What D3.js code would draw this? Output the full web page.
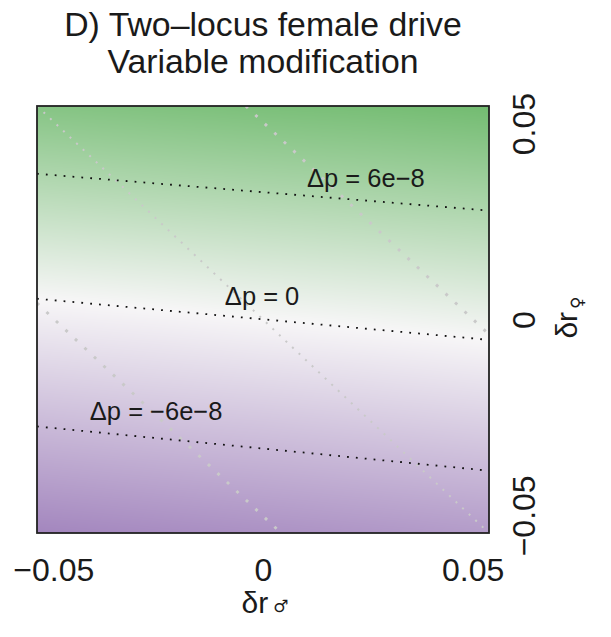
<!DOCTYPE html>
<html><head><meta charset="utf-8">
<script src="https://cdn.jsdelivr.net/npm/d3@7"></script>
<style>
body{margin:0;background:#fff}
svg{display:block}
text{font-family:"Liberation Sans",Arial,Helvetica,sans-serif;fill:#1a1a1a}
</style>
</head><body>
<svg id="chart" width="611" height="637"></svg>
<script>
// ---------- data ----------
const titleLines = ["D) Two\u2013locus female drive", "Variable modification"];
const xTicks = [-0.05, 0, 0.05];
const yTicks = [-0.05, 0, 0.05];
const xTickLabels = ["\u22120.05", "0", "0.05"];
const yTickLabels = ["\u22120.05", "0", "0.05"];
const xDomain = [-0.0539, 0.0539];
const yDomain = [-0.0545, 0.0545];

// Δp field (units of 1e-8) read at grid nodes
const gridX = [-0.05, -0.025, 0, 0.025, 0.05];
const gridY = [0.05, 0.025, 0, -0.025, -0.05];
const deltaP = [
  [ 8.5,  8.9,  9.3,  9.6, 10.0],
  [ 3.8,  4.2,  4.6,  5.0,  5.4],
  [-0.9, -0.5,  0.0,  0.4,  0.9],
  [-5.5, -5.0, -4.6, -4.1, -3.6],
  [-10.1, -9.6, -9.1, -8.6, -8.1]
];
const colorStops = [-11, 0, 11];
const colorRange = ["#a386be", "#f7f6f7", "#71bb6f"];

// labelled Δp contours (level in 1e-8)
const contourLevels = [6, 0, -6];
const contourLines = [
  [[-0.0539, 0.0372], [0.0539, 0.0278]],
  [[-0.0539, 0.0053], [0.0539, -0.0052]],
  [[-0.0539, -0.0273], [0.0539, -0.0386]]
];
const contourLabelPos = [[0.0105, 0.0338], [-0.0091, 0.0037], [-0.0413, -0.0257]];

// light grey dotted reference lines
const greyLines = [
  [[-0.0539, 0.0545], [0.0539, -0.0545]],
  [[-0.0041, 0.0545], [0.0539, -0.0038]],
  [[-0.0539, 0.0042], [0.0043, -0.0545]]
];
const greyWidths = [2.0, 2.9, 2.9];

// ---------- layout ----------
const plot = {left: 37, right: 489, top: 106, bottom: 533};

const svg = d3.select("#chart");
const x = d3.scaleLinear().domain(xDomain).range([plot.left, plot.right]);
const y = d3.scaleLinear().domain(yDomain).range([plot.bottom, plot.top]);

// heatmap raster
const pw = plot.right - plot.left, ph = plot.bottom - plot.top;
const canvas = document.createElement("canvas");
canvas.width = pw; canvas.height = ph;
const ctx = canvas.getContext("2d");
const img = ctx.createImageData(pw, ph);
const ix = d3.scaleLinear().domain(gridX).range(d3.range(gridX.length));
const iy = d3.scaleLinear().domain(gridY.slice().reverse()).range(d3.range(gridY.length).reverse());
const col = d3.scaleLinear().domain(colorStops).range(colorRange).clamp(true);
function field(xv, yv) {
  const fx = ix(xv), fy = iy(yv);
  const i0 = Math.max(0, Math.min(gridX.length - 2, Math.floor(fx)));
  const j0 = Math.max(0, Math.min(gridY.length - 2, Math.floor(fy)));
  const tx = fx - i0, ty = fy - j0;
  const a = deltaP[j0][i0], b = deltaP[j0][i0 + 1];
  const c = deltaP[j0 + 1][i0], d = deltaP[j0 + 1][i0 + 1];
  return (a * (1 - tx) + b * tx) * (1 - ty) + (c * (1 - tx) + d * tx) * ty;
}
for (let j = 0; j < ph; j++) {
  const yv = y.invert(plot.top + j + 0.5);
  for (let i = 0; i < pw; i++) {
    const xv = x.invert(plot.left + i + 0.5);
    const c = d3.rgb(col(field(xv, yv)));
    const k = (j * pw + i) * 4;
    img.data[k] = c.r; img.data[k + 1] = c.g; img.data[k + 2] = c.b; img.data[k + 3] = 255;
  }
}
ctx.putImageData(img, 0, 0);
svg.append("image")
  .attr("x", plot.left).attr("y", plot.top)
  .attr("width", pw).attr("height", ph)
  .attr("preserveAspectRatio", "none")
  .attr("href", canvas.toDataURL());

const line = d3.line().x(d => x(d[0])).y(d => y(d[1]));
svg.append("clipPath").attr("id", "clip")
  .append("rect").attr("x", plot.left).attr("y", plot.top).attr("width", pw).attr("height", ph);
const g = svg.append("g").attr("clip-path", "url(#clip)");

g.selectAll("path.grey").data(greyLines).join("path")
  .attr("class", "grey")
  .attr("d", line)
  .attr("fill", "none")
  .attr("stroke", "#c9c9c9")
  .attr("stroke-width", (d, i) => greyWidths[i])
  .attr("stroke-dasharray", (d, i) => `${greyWidths[i]} ${greyWidths[i] * 3.5}`);

g.selectAll("path.contour").data(contourLines).join("path")
  .attr("class", "contour")
  .attr("d", line)
  .attr("fill", "none")
  .attr("stroke", "#111")
  .attr("stroke-width", 1.8)
  .attr("stroke-dasharray", "1.8 7.1");

function fmtLevel(v) {
  if (v === 0) return "0";
  return (v < 0 ? "\u2212" : "") + Math.abs(v) + "e\u22128";
}
svg.selectAll("text.clab").data(contourLevels).join("text")
  .attr("class", "clab")
  .attr("x", (d, i) => x(contourLabelPos[i][0]))
  .attr("y", (d, i) => y(contourLabelPos[i][1]))
  .attr("font-size", 25.5)
  .text(d => "\u0394p = " + fmtLevel(d));

// border
svg.append("rect")
  .attr("x", plot.left).attr("y", plot.top).attr("width", pw).attr("height", ph)
  .attr("fill", "none").attr("stroke", "#222").attr("stroke-width", 1.8);

// axes (labels only, no tick marks)
const xAxis = d3.axisBottom(x).tickValues(xTicks).tickSize(0)
  .tickFormat((d, i) => xTickLabels[i]);
const gx = svg.append("g").attr("transform", `translate(0,${plot.bottom})`).call(xAxis);
gx.select(".domain").remove();
gx.selectAll("text").attr("font-size", 32).attr("dy", null).attr("y", 48)
  .style("font-family", '"Liberation Sans",Arial,sans-serif').attr("fill", "#1a1a1a");

const yAxis = d3.axisRight(y).tickValues(yTicks).tickSize(0)
  .tickFormat((d, i) => yTickLabels[i]);
const gy = svg.append("g").attr("transform", `translate(${plot.right},0)`).call(yAxis);
gy.select(".domain").remove();
gy.selectAll(".tick text")
  .attr("font-size", 32).attr("x", null).attr("dy", null)
  .attr("text-anchor", "middle")
  .attr("transform", "translate(46,0) rotate(-90)")
  .style("font-family", '"Liberation Sans",Arial,sans-serif').attr("fill", "#1a1a1a");

// titles
svg.selectAll("text.title").data(titleLines).join("text")
  .attr("class", "title")
  .attr("x", (plot.left + plot.right) / 2)
  .attr("y", (d, i) => 36 + i * 37)
  .attr("text-anchor", "middle")
  .attr("font-size", 33.8)
  .text(d => d);

// axis titles
const xt = svg.append("text")
  .attr("x", (plot.left + plot.right) / 2 + 2).attr("y", 613)
  .attr("text-anchor", "middle").attr("font-size", 30);
xt.append("tspan").text("\u03b4r");
xt.append("tspan").attr("font-family", "DejaVu Sans").attr("font-size", 17).attr("dx", 5).attr("dy", -1).text("\u2642");

const yt = svg.append("text")
  .attr("transform", `translate(577,${(plot.top + plot.bottom) / 2 - 2}) rotate(-90)`)
  .attr("text-anchor", "middle").attr("font-size", 30);
yt.append("tspan").text("\u03b4r");
yt.append("tspan").attr("font-family", "DejaVu Sans").attr("font-size", 17).attr("dx", 3).attr("dy", 6).text("\u2640");
</script>
</body></html>
